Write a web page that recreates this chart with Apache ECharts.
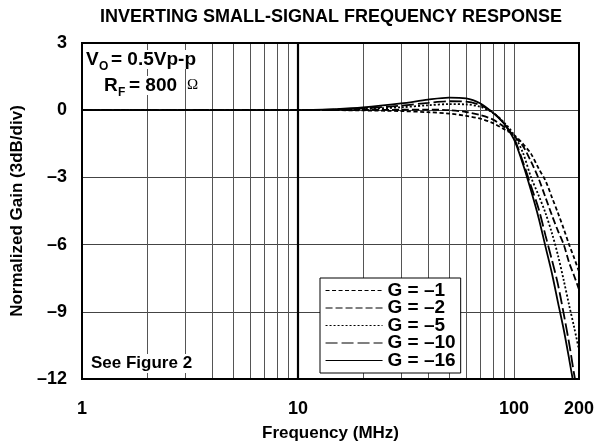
<!DOCTYPE html>
<html>
<head>
<meta charset="utf-8">
<script src="https://cdn.jsdelivr.net/npm/echarts@6/dist/echarts.min.js"></script>
<style>html,body{margin:0;padding:0;background:#fff}#c{width:597px;height:442px}</style>
</head>
<body>
<div id="c"></div>
<script>
const freqs = [1,2,5,10,15,20,30,40,50,60,70,80,90,100,110,120,130,140,150,160,170,180,190,200];
const g1  = [0,0,0,0,0,-0.01,-0.04,-0.09,-0.15,-0.25,-0.38,-0.58,-0.85,-1.1,-1.5,-1.95,-2.6,-3.15,-3.9,-4.6,-5.3,-6.0,-6.6,-7.2];
const g2  = [0,0,0,0,0,0.01,0.02,0.03,0.0,-0.08,-0.22,-0.42,-0.75,-1.15,-1.6,-2.3,-3.05,-3.9,-4.7,-5.4,-6.0,-6.8,-7.4,-8.0];
const g5  = [0,0,0,0,0.02,0.05,0.13,0.22,0.27,0.26,0.15,-0.12,-0.55,-1.1,-1.9,-3.0,-3.8,-4.6,-5.5,-6.5,-7.6,-8.7,-9.7,-10.7];
const g10 = [0,0,0,0,0.03,0.08,0.2,0.33,0.4,0.38,0.22,-0.1,-0.6,-1.25,-2.3,-3.4,-4.4,-5.6,-6.7,-7.8,-9.1,-10.4,-11.8,-13.0];
const g16 = [0,0,0,0,0.05,0.12,0.3,0.47,0.56,0.53,0.3,-0.12,-0.6,-1.3,-2.4,-3.6,-4.8,-6.1,-7.3,-8.6,-9.8,-11.1,-12.4,-13.7];
const seriesNames = ['G = \u20131','G = \u20132','G = \u20135','G = \u201310','G = \u201316'];
const seriesValues = [g1,g2,g5,g10,g16];
const dashes = [[4,2.5],[7,3],[2,2],[12,4],'solid'];
const gridFreqs = [2,3,4,5,6,7,8,9,20,30,40,50,60,70,80,90,100];
const yTicks = [-12,-9,-6,-3,0,3];

const FONT = 'Liberation Sans, Arial, Helvetica, sans-serif';
const chart = echarts.init(document.getElementById('c'));

const lineSeries = seriesValues.map((vals, i) => ({
  name: seriesNames[i],
  type: 'line',
  data: freqs.map((f, j) => [f, vals[j]]),
  smooth: 0.3,
  symbol: 'none',
  z: 3,
  lineStyle: {color: '#000', width: 1.8, type: dashes[i]},
  itemStyle: {color: '#000'}
}));

const markData = gridFreqs.map(f => ({xAxis: f}));
markData.push({xAxis: 10, lineStyle: {color: '#000', width: 2.2, type: 'solid'}});

const option = {
  animation: false,
  backgroundColor: '#fff',
  grid: {left: 82, right: 18, top: 43, bottom: 63, show: true, borderColor: '#000', borderWidth: 2,
         backgroundColor: 'transparent', z: 10, containLabel: false, outerBoundsMode: 'none'},
  xAxis: {
    type: 'log', logBase: 10, min: 1, max: 200,
    axisLine: {show: false}, axisTick: {show: false},
    splitLine: {show: false},
    axisLabel: {color: '#000', fontFamily: FONT, fontWeight: 'bold', fontSize: 18, margin: 21},
    name: 'Frequency (MHz)', nameLocation: 'middle', nameGap: 46,
    nameTextStyle: {color: '#000', fontFamily: FONT, fontWeight: 'bold', fontSize: 17}
  },
  yAxis: {
    type: 'value', min: -12, max: 3, interval: 3,
    axisLine: {show: false}, axisTick: {show: false},
    splitLine: {show: true, lineStyle: {color: '#444', width: 1}},
    axisLabel: {color: '#000', fontFamily: FONT, fontWeight: 'bold', fontSize: 18, margin: 15,
      formatter: v => (v < 0 ? '\u2013' + Math.abs(v) : String(v))},
    name: 'Normalized Gain (3dB/div)', nameLocation: 'middle', nameGap: 54,
    nameTextStyle: {color: '#000', fontFamily: FONT, fontWeight: 'bold', fontSize: 17}
  },
  legend: {
    data: seriesNames, orient: 'vertical', left: 320, top: 278,
    itemWidth: 57, itemHeight: 12, itemGap: -1.5,
    padding: [3, 5, 3, 5],
    borderColor: '#000', borderWidth: 1, backgroundColor: '#fff',
    lineStyle: {width: 1.1},
    itemStyle: {opacity: 0},
    textStyle: {color: '#000', fontFamily: FONT, fontWeight: 'bold', fontSize: 19},
    selectedMode: false, z: 20
  },
  graphic: [
    {type: 'text', x: 331, y: 8, z: 30, style: {text: 'INVERTING SMALL-SIGNAL FREQUENCY RESPONSE', fill: '#000', font: 'bold 18px ' + FONT, align: 'center'}},
    {type: 'text', x: 86, y: 50, z: 30, style: {text: 'V', fill: '#000', font: 'bold 19px ' + FONT, backgroundColor: '#fff'}},
    {type: 'text', x: 99, y: 61, z: 30, style: {text: 'O', fill: '#000', font: 'bold 12px ' + FONT}},
    {type: 'text', x: 109, y: 50, z: 30, style: {text: '= 0.5Vp-p', fill: '#000', font: 'bold 19px ' + FONT, backgroundColor: '#fff', padding: [0,2,0,2]}},
    {type: 'text', x: 104, y: 76, z: 30, style: {text: 'R', fill: '#000', font: 'bold 19px ' + FONT, backgroundColor: '#fff'}},
    {type: 'text', x: 118, y: 87, z: 30, style: {text: 'F', fill: '#000', font: 'bold 12px ' + FONT}},
    {type: 'text', x: 127, y: 76, z: 30, style: {text: '= 800', fill: '#000', font: 'bold 19px ' + FONT, backgroundColor: '#fff', padding: [0,2,0,2]}},
    {type: 'text', x: 187, y: 78, z: 30, style: {text: '\u03A9', fill: '#000', font: '15px Liberation Serif, serif'}},
    {type: 'text', x: 89, y: 354, z: 30, style: {text: 'See Figure 2', fill: '#000', font: 'bold 17px ' + FONT, backgroundColor: '#fff', padding: [1,2,1,2]}}
  ],
  series: [
    {
      name: 'grid', type: 'line', data: [], z: 1,
      markLine: {
        silent: true, symbol: 'none', z: 1, animation: false,
        label: {show: false},
        lineStyle: {color: '#555', width: 1, type: 'solid'},
        data: markData
      }
    }
  ].concat(lineSeries)
};
chart.setOption(option);
</script>
</body>
</html>
